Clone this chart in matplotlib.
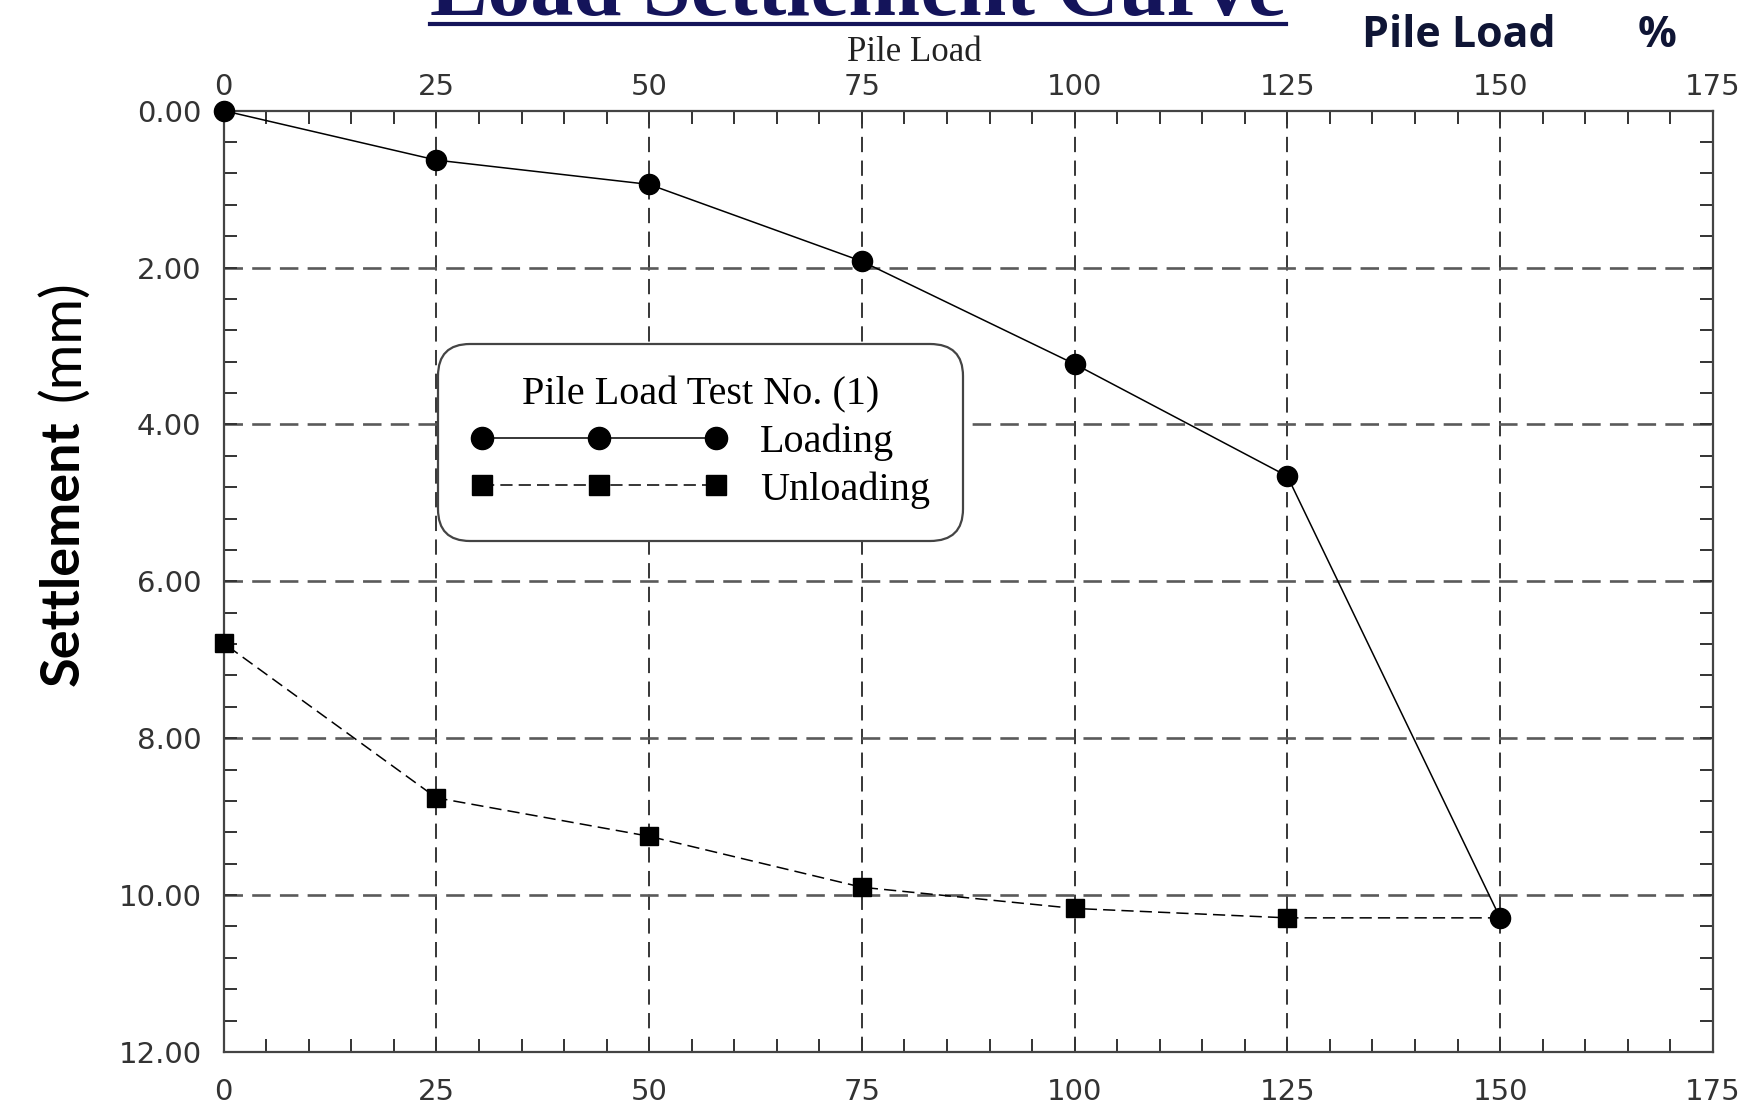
import numpy as np
import matplotlib
matplotlib.use("Agg")
import matplotlib.pyplot as plt
from matplotlib.ticker import MultipleLocator, FormatStrFormatter
from matplotlib.lines import Line2D

# data
LOAD_PCT = [0, 25, 50, 75, 100, 125, 150]
LOADING = [0.00, 0.63, 0.94, 1.92, 3.23, 4.66, 10.29]
UNLOAD_PCT = [150, 125, 100, 75, 50, 25, 0]
UNLOADING = [10.29, 10.29, 10.17, 9.90, 9.25, 8.76, 6.79]

X_TICKS = np.arange(0, 176, 25)
Y_TICKS = np.arange(0, 12.1, 2)

fig = plt.figure(figsize=(17.53, 11.09), dpi=100)
ax = fig.add_axes([0.1276, 0.0514, 0.8495, 0.8488])

# grid
for x in X_TICKS[1:-1]:
    ax.axvline(x, color="black", lw=1.1, dashes=(10, 5.5), zorder=1)
for y in Y_TICKS[1:-1]:
    ax.axhline(y, color="#5a5a5a", lw=1.9, dashes=(7, 3.5), zorder=1)

ax.plot(UNLOAD_PCT, UNLOADING, color="black", lw=1.1, dashes=(8, 4),
        marker="s", ms=13, markevery=slice(1, None), clip_on=False,
        zorder=3, label="Unloading")
ax.plot(LOAD_PCT, LOADING, color="black", lw=1.1, marker="o", ms=14.5,
        clip_on=False, zorder=4, label="Loading")

ax.set_xlim(0, 175)
ax.set_ylim(12, 0)
ax.set_xticks(X_TICKS)
ax.set_yticks(Y_TICKS)
ax.xaxis.set_minor_locator(MultipleLocator(5))
ax.yaxis.set_minor_locator(MultipleLocator(0.4))
ax.yaxis.set_major_formatter(FormatStrFormatter("%.2f"))

ax.tick_params(which="both", direction="in", top=True, right=True,
               color="#333333", width=1.4, length=9.5,
               labelsize=21, labelcolor="#333333")
ax.tick_params(axis="x", which="major", pad=19)
ax.tick_params(axis="y", which="major", pad=16)
for sp in ax.spines.values():
    sp.set_linewidth(1.6)
    sp.set_color("#444444")

# top tick labels, closer to the frame than the bottom ones
top = ax.secondary_xaxis("top")
top.set_xticks(X_TICKS)
top.tick_params(length=0, pad=7, labelsize=21, labelcolor="#333333")
top.spines["top"].set_visible(False)

# legend
handles, labels = ax.get_legend_handles_labels()
leg = ax.legend(handles[::-1], labels[::-1], title="Pile Load Test No. (1)",
                loc="upper left", bbox_to_anchor=(0.144, 0.752), numpoints=3,
                handlelength=6.4, handletextpad=0.8, labelspacing=0.25,
                borderpad=0.8, borderaxespad=0, markerscale=1.1,
                fancybox=True, framealpha=1,
                prop={"family": "Liberation Serif", "size": 29},
                title_fontproperties={"family": "Liberation Serif", "size": 29})
leg.get_frame().set_edgecolor("#444444")
leg.get_frame().set_linewidth(1.6)
leg.get_frame().set_boxstyle("round,pad=0,rounding_size=0.8")
leg.set_zorder(5)

# titles and labels
fig.text(0.2453, 0.9865, "Load Settlement Curve", family="Liberation Serif",
         weight="bold", size=62, color="#14145a", ha="left", va="baseline")
fig.add_artist(Line2D([0.2453, 0.7336], [0.9788, 0.9788], color="#14145a",
                      lw=3, transform=fig.transFigure))
fig.text(0.5214, 0.945, "Pile Load", family="Liberation Serif", size=25,
         color="#222222", ha="center", va="baseline")
fig.text(0.777, 0.958, "Pile Load", family="Open Sans", weight="bold",
         size=31, color="#0f1535", ha="left", va="baseline")
fig.text(0.934, 0.958, "%", family="Open Sans", weight="bold",
         size=31, color="#0f1535", ha="left", va="baseline")
fig.text(0.036, 0.5014, "Settlement", family="Lato", weight="bold",
         size=39, rotation=90, ha="center", va="center", color="black")
fig.text(0.036, 0.6925, "(mm)", family="Lato", size=40, rotation=90,
         ha="center", va="center", color="black")

fig.savefig("out.png", dpi=100)
